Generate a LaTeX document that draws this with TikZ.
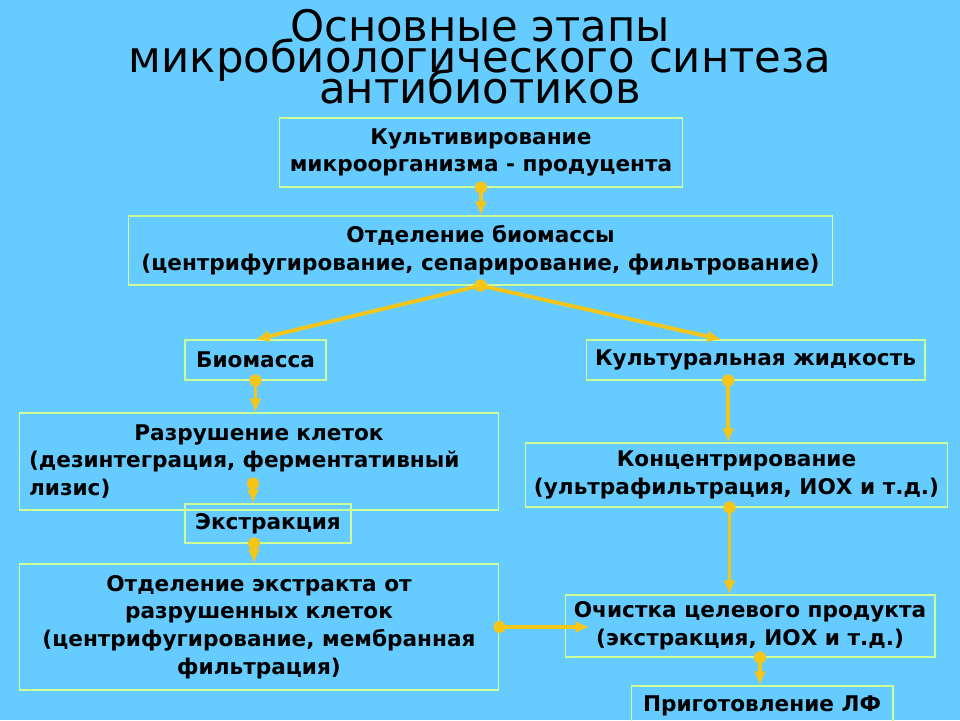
\documentclass[tikz,border=0pt]{standalone}
\usepackage{fontspec}
\setmainfont{DejaVu Sans}
\usetikzlibrary{arrows.meta, calc, positioning}
\definecolor{slideBlue}{HTML}{66CCFF}
\definecolor{linkYellow}{HTML}{F5C518}
\definecolor{frameGreen}{HTML}{CCFF99}
\newcommand{\boxFont}{\bfseries\fontsize{12.3}{15.8}\selectfont\lineskiplimit=-20pt\relax}
\newcommand{\titleFont}{\fontsize{24.7}{17.6}\selectfont\lineskiplimit=-50pt\relax}
\tikzset{
    stageBox/.style={draw=frameGreen, line width=0.6pt, rectangle, inner sep=2pt, align=center, font=\boxFont},
    flowArrow/.style={{Circle[length=7pt]}-{Latex[length=8pt, width=7pt]}, line width=2.2pt, draw=linkYellow, shorten <=-3.5pt},
    titleText/.style={font=\titleFont, align=center, inner sep=0pt},
}
\newcommand{\flowLink}[2]{
    \draw[flowArrow] (#1) -- (#2);
}

\begin{document}
\begin{tikzpicture}[x=0.02cm, y=-0.02cm]

        \path[use as bounding box, clip] (0,0) rectangle (960,720);
        \fill[slideBlue] (0,0) rectangle (960,720);

        \node[titleText] (title) at (480,57) {Основные этапы\\микробиологического синтеза\\антибиотиков};

        \node[stageBox, minimum width=8.08cm, minimum height=1.38cm] (cult) at (481,152.5) {Культивирование\\микроорганизма - продуцента};
        \node[stageBox, minimum width=14.1cm, minimum height=1.38cm] (sep) at (480.5,250.5) {Отделение биомассы\\(центрифугирование, сепарирование, фильтрование)};
        \node[stageBox, minimum width=2.82cm, minimum height=0.8cm] (bio) at (255.5,360) {Биомасса};
        \node[stageBox, minimum width=6.78cm, minimum height=0.8cm] (liq) at (755.5,360) {Культуральная жидкость};
        \node[stageBox, minimum width=9.6cm, minimum height=1.94cm, text width=9.2cm, align=left] (lysis) at (259,461.5) {\makebox[9.2cm]{Разрушение клеток}\\(дезинтеграция, ферментативный\\лизис)};
        \node[stageBox, minimum width=3.32cm, minimum height=0.78cm] (extr) at (268,523.5) {Экстракция};
        \node[stageBox, minimum width=9.6cm, minimum height=2.52cm] (sepext) at (259,627) {Отделение экстракта от\\разрушенных клеток\\(центрифугирование, мембранная\\фильтрация)};
        \node[stageBox, minimum width=8.46cm, minimum height=1.28cm] (conc) at (736.5,475) {Концентрирование\\(ультрафильтрация, ИОХ и т.д.)};
        \node[stageBox, minimum width=7.4cm, minimum height=1.24cm] (pur) at (750,626) {Очистка целевого продукта\\(экстракция, ИОХ и т.д.)};
        \node[stageBox, minimum width=5.24cm, minimum height=0.8cm] (lf) at (762,706) {Приготовление ЛФ};

        % exit points of the connectors
        \coordinate (liqIn) at ($(liq.north west)!0.4!(liq.north east)$);
        \coordinate (liqOut) at ($(liq.south west)!0.42!(liq.south east)$);
        \coordinate (concOut) at ($(conc.south)+(-7,0)$);
        \coordinate (purOut) at ($(pur.south)+(10,0)$);
        \coordinate (lysisOut) at ($(extr.north)+(-15,-20)$);
        \coordinate (extrOut) at ($(extr.south)+(-14,0)$);

        \flowLink{cult.south}{cult.south |- sep.north}
        \flowLink{sep.south}{bio.north}
        \flowLink{sep.south}{liqIn}
        \flowLink{bio.south}{bio.south |- lysis.north}
        \flowLink{lysisOut}{lysisOut |- extr.north}
        \flowLink{extrOut}{extrOut |- sepext.north}
        \flowLink{sepext.east}{$(sepext.east -| pur.west)+(25,0)$}
        \flowLink{liqOut}{liqOut |- conc.north}
        \flowLink{concOut}{concOut |- pur.north}
        \flowLink{purOut}{purOut |- lf.north}

    \end{tikzpicture}
\end{document}
